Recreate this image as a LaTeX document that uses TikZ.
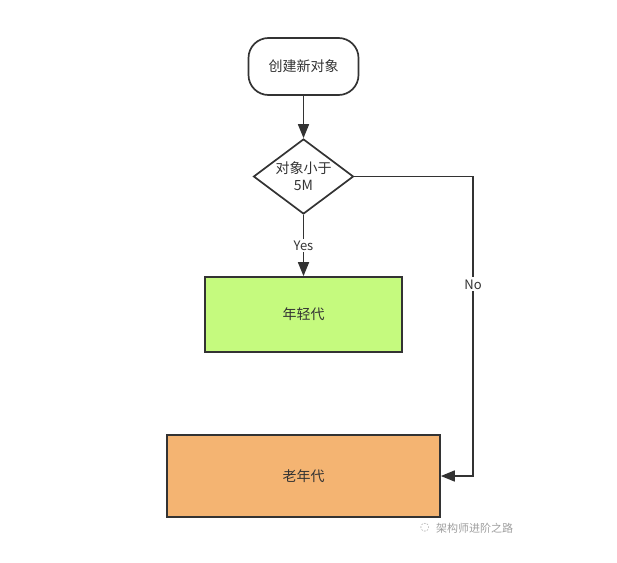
\documentclass[tikz,border=0pt]{standalone}
\usepackage{fontspec}
\setmainfont{Noto Sans CJK SC}
\newfontfamily\cjk{Noto Sans CJK SC}
\usetikzlibrary{shapes.geometric,arrows.meta}
\definecolor{lineC}{HTML}{333333}
\definecolor{textC}{HTML}{333333}
\definecolor{youngC}{HTML}{C5FA7E}
\definecolor{oldC}{HTML}{F4B472}
\tikzset{
  base/.style={draw=lineC, line width=1.7pt, text=textC, font=\cjk\fontsize{14}{17}\selectfont, inner sep=0pt, align=center},
  startbox/.style={base, rounded corners=20pt, minimum width=110pt, minimum height=57pt, fill=white},
  decide/.style={base, diamond, minimum width=100pt, minimum height=75pt, aspect=1.33, fill=white},
  youngbox/.style={base, minimum width=197pt, minimum height=75pt, fill=youngC},
  oldbox/.style={base, minimum width=273pt, minimum height=82pt, fill=oldC},
  conn/.style={draw=lineC, line width=1.7pt, -{Triangle[length=14pt,width=11pt]}},
  lbl/.style={fill=white, text=textC, font=\cjk\fontsize{13}{15}\selectfont, inner sep=2pt},
  wm/.style={text=gray!75, font=\cjk\fontsize{11}{13}\selectfont, inner sep=0pt}
}
\begin{document}
\begin{tikzpicture}[x=1pt,y=-1pt]
\useasboundingbox (0,0) rectangle (617,562);
\node[startbox] (start) at (303.5,66.5) {创建新对象};
\node[decide] (dec) at (303.5,176.5) {对象小于\\5M};
\node[youngbox] (young) at (303.5,314.5) {年轻代};
\node[oldbox] (old) at (303.5,476) {老年代};
\coordinate (c1) at (473,176.5);
\coordinate (c2) at (473,476);
\draw[conn] (start.south) -- (dec.north);
\draw[conn] (dec.south) -- node[lbl, pos=0.5] {Yes} (young.north);
\draw[conn] (dec.east) -- (c1) -- node[lbl, pos=0.36] {No} (c2) -- (old.east);
\node[wm] (wmicon) at (425,528) {\fontspec{DejaVu Sans}\fontsize{11}{13}\selectfont ◌};
\node[wm, anchor=west] (wmtext) at (436,528) {架构师进阶之路};
\end{tikzpicture}
\end{document}
